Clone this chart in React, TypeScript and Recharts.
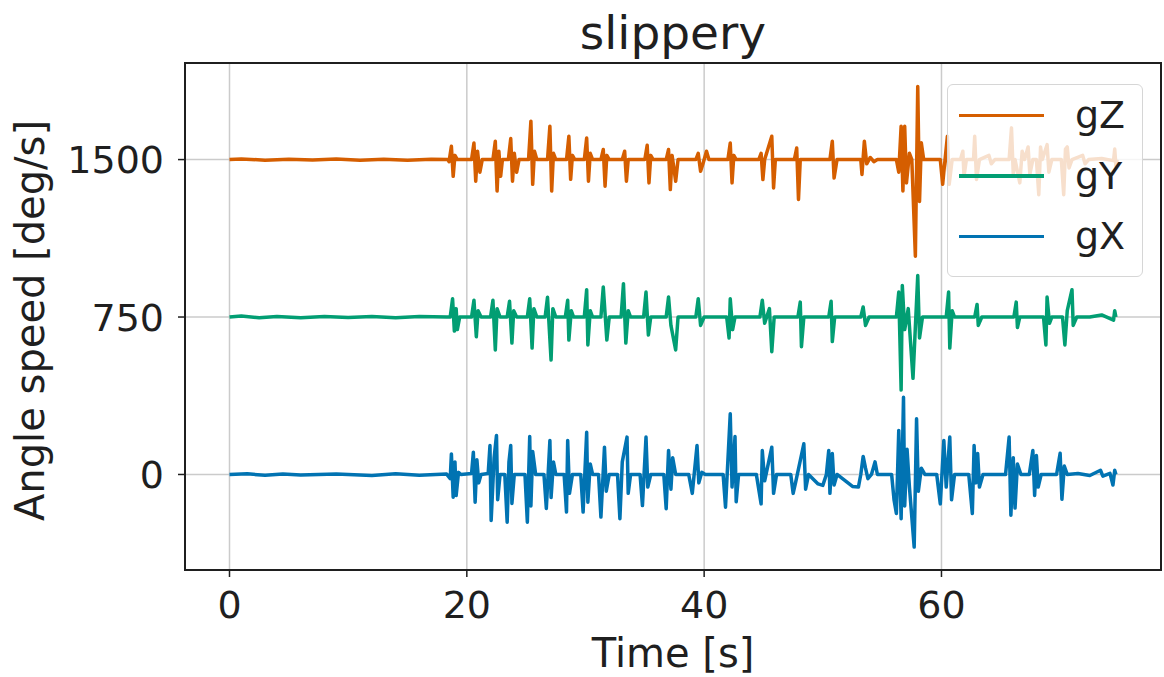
import React from 'react';
import { LineChart, Line, XAxis, YAxis, CartesianGrid, ReferenceArea } from 'recharts';

// angular speed per gyro axis, [time s, deg/s]; each trace is shifted by its offset on the plot
const gZ: [number, number][] = [
  [0, 0], [1, 3], [3, -3], [5, 2], [7, -2], [9, 3], [11, -3], [13, 2], [15, -3], [17, 2], [18.4, 0],
  [18.5, -10], [18.7, 63], [18.85, -80], [19.0, 20], [19.2, 0],
  [20.4, 0], [20.6, 79], [20.75, -103], [20.9, 40], [21.1, -60], [21.3, 0],
  [22.2, 0], [22.4, 87], [22.55, -150], [22.7, 40], [22.85, -80], [23.0, 0],
  [23.5, 0], [23.7, 100], [23.85, -103], [24.0, 30], [24.2, -60], [24.4, 0],
  [25.2, 0], [25.4, 183], [25.55, -118], [25.7, 40], [25.9, 0],
  [26.8, 0], [27.0, 159], [27.15, -150], [27.3, 30], [27.5, 0],
  [28.4, 0], [28.6, 111], [28.75, -94], [28.9, 20], [29.1, 0],
  [29.9, 0], [30.1, 103], [30.25, -103], [30.4, 30], [30.6, 0],
  [31.3, 0], [31.5, 48], [31.65, -127], [31.8, 20], [32.0, 0],
  [33.1, 0], [33.3, 40], [33.45, -103], [33.6, 0],
  [35.0, 0], [35.2, 68], [35.35, -111], [35.5, 20], [35.7, 0],
  [36.8, 0], [37.0, 48], [37.15, -143], [37.3, 20], [37.6, -103], [37.8, 0],
  [39.3, 0], [39.5, 30], [39.7, -56], [39.9, -20], [40.2, 40], [40.4, 0],
  [42.0, 0], [42.2, 79], [42.35, -111], [42.5, 20], [42.7, 0],
  [44.6, 0], [44.8, 30], [44.95, -95], [45.1, 0], [45.7, 111], [45.85, -135], [46.0, 0],
  [47.6, 0], [47.8, 55], [47.95, -190], [48.1, 0],
  [50.6, 0], [50.8, 87], [50.95, -88], [51.2, 0],
  [53.2, 0], [53.3, -71], [53.5, 87], [53.7, -20], [54.0, 10], [54.3, -10], [54.6, 0],
  [56.2, 0], [56.4, -60], [56.6, 159], [56.75, -150], [56.9, 159], [57.05, -111], [57.3, 30], [57.5, 0],
  [57.8, -460], [58.0, 348], [58.15, -200], [58.3, 80], [58.5, 0],
  [59.9, 0], [60.1, -118], [60.3, 0], [60.5, 111], [60.65, -118], [60.9, 0],
  [61.6, 0], [61.8, 40], [61.9, -80], [62.1, 0],
  [62.7, 0], [62.8, 111], [62.95, -95], [63.2, 0],
  [64.0, 20], [64.2, -20], [64.5, 0],
  [65.7, 0], [65.9, 151], [66.05, -70], [66.2, 0],
  [66.6, -111], [66.8, 40], [67.0, 0],
  [67.3, 60], [67.45, -70], [67.7, 0],
  [68.0, 0], [68.2, -167], [68.35, 60], [68.5, 0],
  [68.9, 71], [69.05, -60], [69.3, 0],
  [70.1, 0], [70.3, -167], [70.45, 50], [70.6, 60], [70.75, -40], [71.0, 0],
  [71.9, 20], [72.1, -20], [72.4, 0],
  [73.5, 5], [74.5, -5], [74.6, 50], [74.7, -30], [74.8, 0],
];

const gY: [number, number][] = [
  [0, 0], [1, 5], [2.5, -4], [4, 3], [6, -3], [8, 2], [10, -2], [12, 2], [14, -3], [16, 2], [18.3, 0],
  [18.6, 0], [18.8, 87], [18.95, -67], [19.1, 40], [19.2, -60], [19.4, 0],
  [20.4, 0], [20.6, 80], [20.8, -94], [20.95, 30], [21.2, 0],
  [22.0, 0], [22.2, 80], [22.4, -157], [22.55, 40], [22.8, 0],
  [23.4, 0], [23.6, 75], [23.8, -124], [23.95, 30], [24.2, 0],
  [25.1, 0], [25.3, 87], [25.5, -148], [25.65, 40], [25.9, 0],
  [26.6, 0], [26.8, 94], [27.1, -205], [27.25, 40], [27.5, 0],
  [28.3, 0], [28.5, 80], [28.6, -110], [28.8, 30], [29.0, 0],
  [29.9, 0], [30.1, 130], [30.2, -133], [30.4, 30], [30.6, 0],
  [31.3, 0], [31.5, 143], [31.8, -110], [32.0, 0],
  [33.0, 0], [33.2, 159], [33.4, -124], [33.6, 30], [33.8, 0],
  [34.9, 0], [35.1, 119], [35.3, -86], [35.5, 0],
  [36.8, 0], [37.0, 95], [37.2, -40], [37.6, -157], [37.8, 0],
  [39.3, 0], [39.5, 87], [39.7, -40], [40.0, 0],
  [41.9, 0], [42.1, -100], [42.2, 87], [42.4, -60], [42.6, 0],
  [44.7, 0], [44.9, 80], [45.1, -30], [45.5, 40], [45.7, -165], [45.9, 0],
  [47.9, 0], [48.1, 71], [48.2, -141], [48.4, 0],
  [50.5, 0], [50.7, 75], [50.8, -117], [51.0, 0],
  [53.2, 0], [53.4, 48], [53.6, -40], [53.9, 0],
  [56.2, 0], [56.4, 119], [56.6, -348], [56.7, 150], [56.9, -60], [57.2, 40], [57.6, -292], [58.0, 198], [58.15, -100], [58.4, 0],
  [60.4, 0], [60.6, 119], [60.7, -148], [60.9, 30], [61.1, 0],
  [62.8, 0], [63.0, 60], [63.1, -40], [63.4, 0],
  [66.1, 0], [66.3, 71], [66.4, -50], [66.6, 0],
  [68.6, 0], [68.8, -133], [68.9, 95], [69.1, -30], [69.3, 0],
  [70.2, 0], [70.4, -133], [70.6, 30], [71.0, 130], [71.1, -40], [71.4, 0],
  [72.5, 0], [73.5, 10], [74.5, -15], [74.6, 30], [74.7, 0],
];

const gX: [number, number][] = [
  [0, 0], [1.5, 3], [3, -4], [4.5, 2], [6, -3], [9, 2], [12, -5], [14, 3], [16, -4], [18.3, 2],
  [18.6, -20], [18.7, 98], [18.85, -108], [19.0, 60], [19.1, -100], [19.3, 10], [19.5, 0],
  [20.4, 5], [20.55, 106], [20.7, -132], [20.85, 70], [21.0, -40], [21.2, 0],
  [21.8, 5], [21.95, 138], [22.05, -219], [22.3, 80], [22.5, 186], [22.6, -120], [22.8, 0],
  [23.2, 0], [23.4, -227], [23.55, 60], [23.7, 138], [23.8, -138], [24.0, 0],
  [24.9, 0], [25.1, -227], [25.3, 181], [25.4, -150], [25.55, 110], [25.8, 0],
  [26.5, 0], [26.7, -162], [27.0, 162], [27.1, -110], [27.3, 60], [27.5, 0],
  [28.2, 0], [28.4, -179], [28.5, 162], [28.65, -90], [28.9, 0],
  [29.6, 0], [29.8, -179], [30.1, 201], [30.2, -132], [30.4, 50], [30.6, 0],
  [31.1, 0], [31.3, -203], [31.6, 130], [31.75, -80], [32.0, 0],
  [32.7, 0], [32.9, -211], [33.1, 60], [33.5, 178], [33.6, -90], [33.8, 0],
  [34.6, 0], [34.8, -148], [35.1, 178], [35.25, -60], [35.5, 0],
  [36.6, 0], [36.8, -163], [37.0, 114], [37.2, -70], [37.35, 80], [37.6, 0],
  [38.7, 0], [39.0, -90], [39.4, 138], [39.55, -40], [39.8, 10], [40.1, 0],
  [41.6, 0], [41.8, -156], [42.2, 289], [42.35, -60], [42.6, 181], [42.7, -130], [42.9, 0],
  [44.4, 0], [44.8, -140], [44.9, 114], [45.1, -30], [45.7, 130], [45.85, -90], [46.1, 0],
  [47.3, 0], [47.5, -90], [47.7, -40], [48.4, 146], [48.55, -70], [48.8, 0],
  [49.6, -45], [50.0, -52], [50.3, 0], [50.5, 114], [50.6, -90], [50.8, 100], [50.95, -50], [51.2, 0],
  [52.5, -57], [53.0, -60], [53.2, 0], [53.4, 86], [53.6, 30], [53.8, -20], [54.1, 0], [54.4, 60], [54.6, 0],
  [55.8, 0], [56.0, -120], [56.2, -186], [56.4, 210], [56.6, -211], [56.8, 368], [56.9, -150], [57.1, 120], [57.3, -60],
  [57.7, -346], [57.9, 265], [58.05, -80], [58.3, 30], [58.6, 0],
  [59.6, 0], [59.9, -140], [60.2, 162], [60.4, -60], [60.7, 178], [60.85, -120], [61.1, 0],
  [62.3, 0], [62.6, -186], [62.75, 138], [62.9, -40], [63.05, 100], [63.2, -60], [63.5, 0],
  [65.4, 0], [65.7, 178], [65.85, -194], [66.05, 80], [66.2, -160], [66.4, 50], [66.7, 0],
  [67.4, 0], [67.7, 114], [67.85, -100], [68.0, 90], [68.15, -60], [68.4, 0],
  [69.7, 0], [70.0, 101], [70.15, -118], [70.35, 40], [70.6, 0],
  [71.5, 5], [72.5, -5], [73.4, 20], [73.6, -8], [74.2, 5], [74.45, -50], [74.6, 20], [74.7, 0],
];

const seriesNames = ['gZ', 'gY', 'gX'];
const seriesColors = ['#d55e00', '#029e73', '#0173b2'];
const seriesOffsets = [1500, 750, 0];
const seriesPoints = [gZ, gY, gX];

const xTicks = [0, 20, 40, 60];
const yTicks = [0, 750, 1500];
const xDomain: [number, number] = [-3.75, 78.5];
const yDomain: [number, number] = [-455, 1960];

const FONT = '"DejaVu Sans", Verdana, sans-serif';
const INK = '#1f1f1f';

const XLabel = (props: any) => {
  const vb = props.viewBox || { x: 185, y: 570, width: 976, height: 107 };
  return (
    <text x={vb.x + vb.width / 2} y={vb.y + 97} textAnchor="middle" fill={INK} fontSize={40}>
      Time [s]
    </text>
  );
};

const YLabel = (props: any) => {
  const vb = props.viewBox || { x: 0, y: 63, width: 185, height: 507 };
  const cx = vb.x + 44;
  const cy = vb.y + vb.height / 2 + 4;
  return (
    <text x={cx} y={cy} transform={`rotate(-90, ${cx}, ${cy})`} textAnchor="middle" fill={INK} fontSize={40}>
      Angle speed [deg/s]
    </text>
  );
};

export default function App() {
  const rows = seriesPoints.map((pts, i) => pts.map(([t, v]) => ({ t, v: v + seriesOffsets[i] })));
  // draw gX first so gZ ends on top
  const order = [2, 1, 0];

  return (
    <div style={{ position: 'absolute', left: 0, top: 0, width: 1164, height: 677, background: '#fff', fontFamily: FONT }}>
      <div
        style={{
          position: 'absolute', left: 185, top: 9, width: 976, textAlign: 'center',
          fontSize: 47, lineHeight: '47px', color: INK,
        }}
      >
        slippery
      </div>
      <LineChart width={1164} height={677} margin={{ top: 63, right: 3, bottom: 0, left: 0 }}>
        <CartesianGrid stroke="#cbcbcb" strokeWidth={1.5} />
        <XAxis
          dataKey="t"
          type="number"
          domain={xDomain}
          ticks={xTicks}
          allowDataOverflow
          height={107}
          axisLine={false}
          tickSize={7}
          tickMargin={14}
          tickLine={{ stroke: INK, strokeWidth: 1.5 }}
          tick={{ fill: INK, fontSize: 38 }}
          label={<XLabel />}
        />
        <YAxis
          type="number"
          domain={yDomain}
          ticks={yTicks}
          allowDataOverflow
          width={185}
          axisLine={false}
          tickSize={7}
          tickMargin={14}
          tickLine={{ stroke: INK, strokeWidth: 1.5 }}
          tick={{ fill: INK, fontSize: 38 }}
          label={<YLabel />}
        />
        {order.map((i) => (
          <Line
            key={seriesNames[i]}
            data={rows[i]}
            dataKey="v"
            name={seriesNames[i]}
            type="linear"
            stroke={seriesColors[i]}
            strokeWidth={3.5}
            strokeLinejoin="round"
            dot={false}
            activeDot={false}
            isAnimationActive={false}
          />
        ))}
        <ReferenceArea
          x1={xDomain[0]}
          x2={xDomain[1]}
          y1={yDomain[0]}
          y2={yDomain[1]}
          fill="none"
          stroke={INK}
          strokeWidth={2}
          ifOverflow="visible"
        />
      </LineChart>
      <div
        style={{
          position: 'absolute', left: 947, top: 84, width: 196, height: 193, boxSizing: 'border-box',
          background: 'rgba(255,255,255,0.8)', border: '1.5px solid #d6d6d6', borderRadius: 6,
        }}
      >
        {seriesNames.map((name, i) => (
          <div key={name} style={{ display: 'flex', alignItems: 'center', height: 60.5 }}>
            <div style={{ marginLeft: 11, width: 85, height: 3.5, background: seriesColors[i] }} />
            <span style={{ marginLeft: 31, fontSize: 38, lineHeight: '44px', color: INK }}>{name}</span>
          </div>
        ))}
      </div>
    </div>
  );
}
